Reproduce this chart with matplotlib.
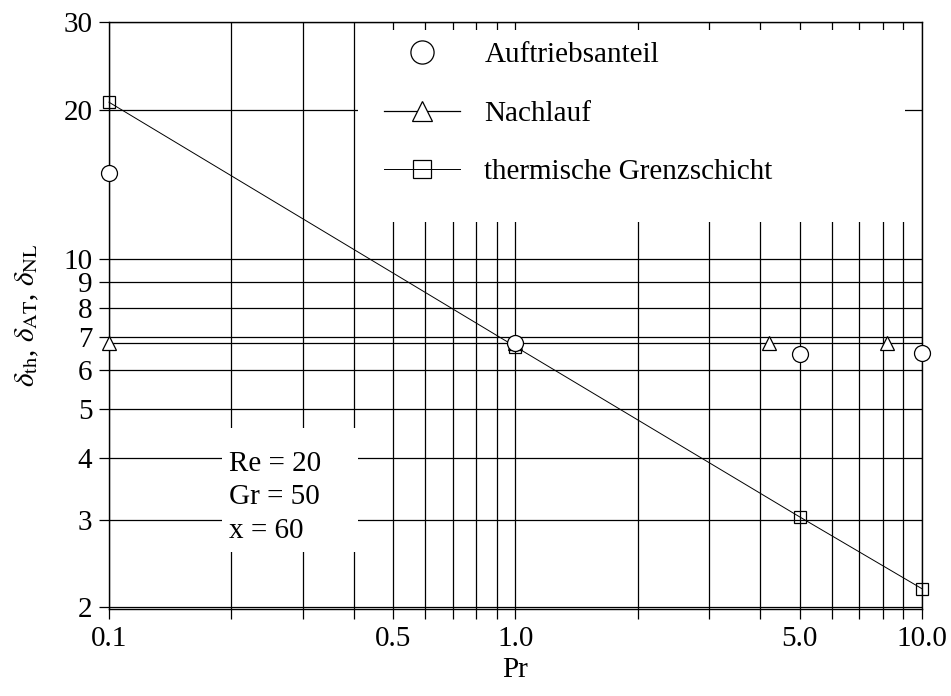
import numpy as np
import matplotlib.pyplot as plt
from matplotlib.patches import Rectangle
from matplotlib.ticker import FixedLocator, FixedFormatter, NullFormatter, NullLocator

plt.rcParams['font.family'] = ['Liberation Serif', 'DejaVu Serif']
plt.rcParams['mathtext.fontset'] = 'stix'

### data #####
pr_at = [0.1, 1.0, 5.0, 10.0]
delta_at = [14.9, 6.8, 6.45, 6.5]

pr_nl = [0.1, 1.0, 4.2, 8.2, 10.0]
delta_nl = [6.8, 6.8, 6.8, 6.8, 6.8]

pr_th = [0.1, 1.0, 5.0, 10.0]
delta_th = [20.7, 6.68, 3.04, 2.18]

x_ticks = [0.1, 0.5, 1.0, 5.0, 10.0]
x_ticklabels = ['0.1', '0.5', '1.0', '5.0', '10.0']
x_grid = [0.1, 0.2, 0.3, 0.4, 0.5, 0.6, 0.7, 0.8, 0.9,
          1, 2, 3, 4, 5, 6, 7, 8, 9, 10]
y_ticks = [2, 3, 4, 5, 6, 7, 8, 9, 10, 20, 30]
y_ticklabels = ['2', '3', '4', '5', '6', '7', '8', '9', '10', '20', '30']
######

fs = 21

fig = plt.figure(figsize=(9.51, 6.96), dpi=100)
ax = fig.add_axes([0.1146, 0.125, 0.8549, 0.8434])
ax.set_xscale('log')
ax.set_yscale('log')
ax.set_xlim(0.1, 10.0)
ax.set_ylim(1.985, 30)

# full grid: every minor decade step on x, listed values on y
ax.xaxis.set_major_locator(FixedLocator(x_grid))
ax.xaxis.set_major_formatter(FixedFormatter(
    [x_ticklabels[x_ticks.index(v)] if v in x_ticks else '' for v in x_grid]))
ax.xaxis.set_minor_locator(NullLocator())
ax.yaxis.set_major_locator(FixedLocator(y_ticks))
ax.yaxis.set_major_formatter(FixedFormatter(y_ticklabels))
ax.yaxis.set_minor_locator(NullLocator())
ax.yaxis.set_minor_formatter(NullFormatter())
ax.grid(True, which='major', color='black', linewidth=0.9)
ax.tick_params(axis='both', direction='out', length=7, width=0.9,
               labelsize=fs, pad=5, colors='black')
for s in ax.spines.values():
    s.set_linewidth(1.0)
    s.set_color('black')

ax.plot(pr_at, delta_at, linestyle='none', marker='o', ms=11.5,
        mfc='white', mec='black', mew=0.9, zorder=4, clip_on=False,
        label='Auftriebsanteil')
ax.plot(pr_nl, delta_nl, color='black', lw=0.9, marker='^', ms=10,
        markevery=[0, 1, 2, 3], mfc='white', mec='black', mew=0.9, zorder=3,
        clip_on=False, label='Nachlauf')
ax.plot(pr_th, delta_th, color='black', lw=0.7, marker='s', ms=8.6,
        mfc='none', mec='black', mew=0.9, zorder=3, clip_on=False,
        label='thermische Grenzschicht')

# white panels behind the legend and the parameter note
ax.add_patch(Rectangle((0.306, 0.659), 0.673, 0.327, transform=ax.transAxes,
                       facecolor='white', edgecolor='none', zorder=2))
ax.add_patch(Rectangle((0.139, 0.097), 0.167, 0.211, transform=ax.transAxes,
                       facecolor='white', edgecolor='none', zorder=2))

leg = ax.legend(loc='upper left', bbox_to_anchor=(0.338, 0.966), frameon=False,
                fontsize=fs, markerscale=1.45, handlelength=2.6,
                handletextpad=0.85, labelspacing=1.1, borderpad=0,
                borderaxespad=0)
leg.set_zorder(6)

ax.text(0.148, 0.19, 'Re = 20\nGr = 50\nx = 60', transform=ax.transAxes,
        fontsize=fs, ha='left', va='center', linespacing=1.38, zorder=5)

ax.set_xlabel('Pr', fontsize=fs, labelpad=4)
ax.set_ylabel(r'$\delta_{\rm th}$, $\delta_{\rm AT}$, $\delta_{\rm NL}$',
              fontsize=fs, labelpad=16)

fig.savefig('out.png', dpi=100)
